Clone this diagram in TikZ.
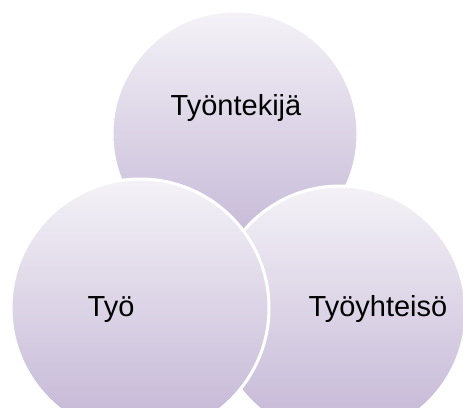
\documentclass[tikz,border=0pt]{standalone}
\usepackage{fontspec}
\setmainfont{Liberation Sans}
\definecolor{lavtop}{HTML}{F4F2F7}
\definecolor{lavmid}{HTML}{DCD4E7}
\definecolor{lavbot}{HTML}{C3B5D5}
\tikzset{
  bubble/.style={circle, inner sep=0pt, draw=white, line width=3pt,
    top color=lavtop, middle color=lavmid, bottom color=lavbot},
  label text/.style={font=\fontsize{29}{32}\selectfont, text=black, anchor=base, inner sep=0pt}
}
\begin{document}
\begin{tikzpicture}[x=1pt,y=-1pt]
\useasboundingbox (0,0) rectangle (463,407);
\fill[white] (0,0) rectangle (463,407);
\clip (0,0) rectangle (463,407);
\node[bubble, minimum size=246pt] (top) at (235,134) {};
\node[bubble, minimum size=252pt] (right) at (340,312) {};
\node[bubble, minimum size=258pt] (left) at (140,308) {};
\node[label text] (ttop) at (236,115) {Työntekijä};
\node[label text] (tleft) at (111,316) {Työ};
\node[label text] (tright) at (378,316) {Työyhteisö};
\end{tikzpicture}
\end{document}
